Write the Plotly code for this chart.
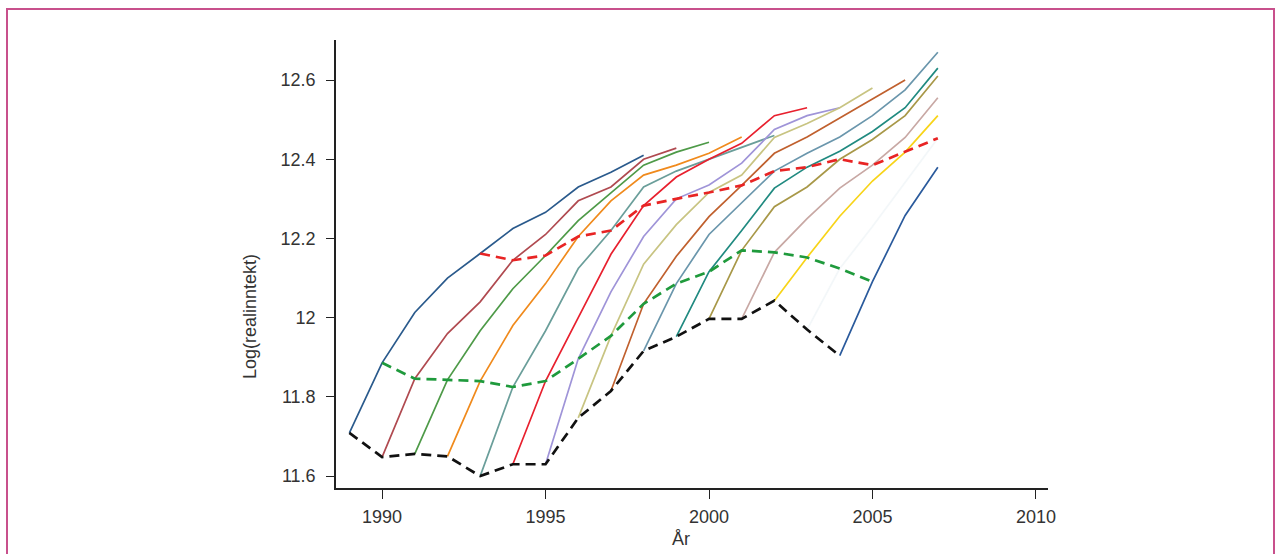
import plotly.graph_objects as go

# ---- data ----
cohort_start = [1989, 1990, 1991, 1992, 1993, 1994, 1995, 1996,
                1997, 1998, 1999, 2000, 2001, 2002, 2003, 2004]

c1989 = [11.709, 11.886, 12.013, 12.10, 12.162, 12.225, 12.266, 12.33, 12.367, 12.41]
c1990 = [11.648, 11.846, 11.96, 12.04, 12.145, 12.21, 12.295, 12.33, 12.40, 12.428]
c1991 = [11.656, 11.843, 11.967, 12.073, 12.157, 12.245, 12.315, 12.385, 12.418, 12.443]
c1992 = [11.65, 11.84, 11.98, 12.086, 12.205, 12.295, 12.36, 12.385, 12.415, 12.456]
c1993 = [11.60, 11.825, 11.967, 12.124, 12.22, 12.33, 12.37, 12.40, 12.43, 12.46]
c1994 = [11.63, 11.84, 12.0, 12.16, 12.283, 12.355, 12.40, 12.44, 12.51, 12.53]
c1995 = [11.63, 11.896, 12.065, 12.205, 12.30, 12.335, 12.39, 12.475, 12.51, 12.53]
c1996 = [11.747, 11.954, 12.135, 12.235, 12.316, 12.36, 12.455, 12.49, 12.53, 12.58]
c1997 = [11.815, 12.035, 12.155, 12.255, 12.334, 12.415, 12.456, 12.504, 12.55, 12.60]
c1998 = [11.916, 12.086, 12.21, 12.29, 12.37, 12.415, 12.456, 12.51, 12.575, 12.67]
c1999 = [11.952, 12.116, 12.22, 12.327, 12.38, 12.42, 12.47, 12.53, 12.63]
c2000 = [11.997, 12.17, 12.28, 12.33, 12.40, 12.45, 12.51, 12.61]
c2001 = [11.997, 12.165, 12.25, 12.327, 12.385, 12.455, 12.555]
c2002 = [12.043, 12.152, 12.256, 12.345, 12.418, 12.51]
c2003 = [11.97, 12.124, 12.23, 12.34, 12.453]
c2004 = [11.904, 12.091, 12.258, 12.38]
cohorts = [c1989, c1990, c1991, c1992, c1993, c1994, c1995, c1996,
           c1997, c1998, c1999, c2000, c2001, c2002, c2003, c2004]

cohort_colors = ["#2a5a8c", "#b04a50", "#4e9a48", "#f08a1c", "#6a9e9a", "#e8202e",
                 "#9f94d8", "#c8c482", "#c0602e", "#6a96ac", "#208a80", "#a89848",
                 "#c8a8a4", "#f8d418", "#f3f7f9", "#2a5a9c"]

# entry-year, second-year and fifth-year profiles
first_years = [1989, 1990, 1991, 1992, 1993, 1994, 1995, 1996,
               1997, 1998, 1999, 2000, 2001, 2002, 2003, 2004]
first_vals = [11.709, 11.648, 11.656, 11.65, 11.60, 11.63, 11.63, 11.747,
              11.815, 11.916, 11.952, 11.997, 11.997, 12.043, 11.97, 11.904]
second_years = [1990, 1991, 1992, 1993, 1994, 1995, 1996, 1997,
                1998, 1999, 2000, 2001, 2002, 2003, 2004, 2005]
second_vals = [11.886, 11.846, 11.843, 11.84, 11.825, 11.84, 11.896, 11.954,
               12.035, 12.086, 12.116, 12.17, 12.165, 12.152, 12.124, 12.091]
fifth_years = [1993, 1994, 1995, 1996, 1997, 1998, 1999, 2000,
               2001, 2002, 2003, 2004, 2005, 2006, 2007]
fifth_vals = [12.162, 12.145, 12.157, 12.205, 12.22, 12.283, 12.30, 12.316,
              12.334, 12.37, 12.38, 12.40, 12.385, 12.418, 12.453]

x_ticks = [1990, 1995, 2000, 2005, 2010]
y_ticks = [11.6, 11.8, 12.0, 12.2, 12.4, 12.6]
y_tick_text = ["11.6", "11.8", "12", "12.2", "12.4", "12.6"]

# ---- figure ----
fig = go.Figure()
for start, vals, col in zip(cohort_start, cohorts, cohort_colors):
    yrs = list(range(start, start + len(vals)))
    fig.add_trace(go.Scatter(x=yrs, y=vals, mode="lines",
                             line=dict(color=col, width=1.7), showlegend=False,
                             hoverinfo="skip"))

fig.add_trace(go.Scatter(x=fifth_years, y=fifth_vals, mode="lines",
                         line=dict(color="#e82424", width=2.7, dash="10px,6px"),
                         showlegend=False))
fig.add_trace(go.Scatter(x=second_years, y=second_vals, mode="lines",
                         line=dict(color="#1f9a3c", width=2.7, dash="10px,6px"),
                         showlegend=False))
fig.add_trace(go.Scatter(x=first_years, y=first_vals, mode="lines",
                         line=dict(color="#111111", width=2.7, dash="10px,6px"),
                         showlegend=False))

L, R, T, B = 336, 233, 40, 66
W, H = 1281, 554
pw, ph = W - L - R, H - T - B

def px_x(px):
    return (px - L) / pw

def px_y(py):
    return (H - B - py) / ph

fig.update_layout(
    width=W, height=H,
    margin=dict(l=L, r=R, t=T, b=B, pad=0),
    paper_bgcolor="white", plot_bgcolor="white",
    font=dict(family="Liberation Sans, Arial, sans-serif", size=18, color="#333333"),
    xaxis=dict(range=[1988.59, 2010.37], tickvals=x_ticks, showgrid=False,
               zeroline=False, showline=True, linecolor="#222222", linewidth=1.5,
               ticks="outside", ticklen=9, tickcolor="#222222", tickwidth=1.2,
               ticklabelstandoff=3, tickfont=dict(size=18, color="#333333")),
    yaxis=dict(range=[11.570, 12.701], tickvals=y_ticks, ticktext=y_tick_text,
               showgrid=False, zeroline=False, showline=True, linecolor="#222222",
               linewidth=1.5, ticks="outside", ticklen=8, tickcolor="#222222",
               tickwidth=1.2, ticklabelstandoff=7,
               tickfont=dict(size=18, color="#333333")),
    shapes=[dict(type="rect", xref="paper", yref="paper",
                 x0=px_x(7), x1=px_x(1274), y0=px_y(580), y1=px_y(9),
                 line=dict(color="#c8508c", width=2), fillcolor="rgba(0,0,0,0)",
                 layer="below")],
    annotations=[
        dict(text="År", xref="paper", yref="paper", x=px_x(681), y=px_y(539),
             showarrow=False, font=dict(size=18, color="#333333"),
             xanchor="center", yanchor="middle"),
        dict(text="Log(realinntekt)", xref="paper", yref="paper", x=px_x(250),
             y=px_y(317), showarrow=False, textangle=-90,
             font=dict(size=18, color="#333333"), xanchor="center", yanchor="middle"),
    ],
)

fig.write_html("out.html", config={"displayModeBar": False})

# remove the default page margin so the figure sits at the window's top-left corner
with open("out.html", "r", encoding="utf-8") as f:
    html = f.read()
html = html.replace("<head>", "<head><style>html,body{margin:0;padding:0;overflow:hidden;}</style>", 1)
with open("out.html", "w", encoding="utf-8") as f:
    f.write(html)
